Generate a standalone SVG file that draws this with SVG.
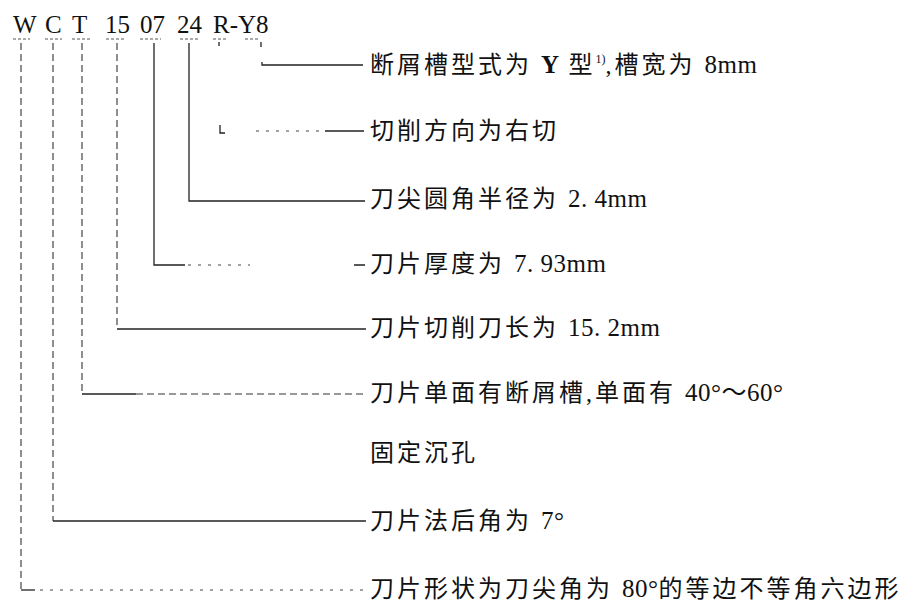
<svg xmlns="http://www.w3.org/2000/svg" width="912" height="601" viewBox="0 0 912 601">
<style>
.t{font-family:"Liberation Serif","Noto Sans CJK SC",serif;font-size:24px;fill:#111;letter-spacing:3px}
.n{font-size:25px;letter-spacing:0.5px}
.code{font-family:"Liberation Serif",serif;font-size:25px;fill:#111}
.ln{fill:none;stroke:#222;stroke-width:1.3}
.dash{fill:none;stroke:#333;stroke-width:1.1;stroke-dasharray:7 4}
.dot{fill:none;stroke:#444;stroke-width:1;stroke-dasharray:3 7}
.ul{fill:none;stroke:#555;stroke-width:1;stroke-dasharray:3 2}
</style>
<rect width="912" height="601" fill="#fff"/>
<g id="code">
<text class="code" x="13" y="33">W</text>
<text class="code" x="45" y="33">C</text>
<text class="code" x="72" y="33">T</text>
<text class="code" x="105" y="33">15</text>
<text class="code" x="140" y="33">07</text>
<text class="code" x="177" y="33">24</text>
<text class="code" x="213" y="33">R-Y8</text>
<path class="ul" d="M13 39H30M45 39H62M72 39H90M106 39H125M140 39H161M180 39H200M213 39H228M245 39H258"/>
</g>
<g id="connectors">
<path class="ln" d="M261 42V47M262 62V65H363"/>
<path class="ln" d="M219 42V46M220 125V133H225"/>
<path class="dot" d="M256 131H325"/>
<path class="ln" d="M325 131H364"/>
<path class="ln" d="M189 43V201H365"/>
<path class="ln" d="M154 43V265H185M354 265H365"/>
<path class="dot" d="M188 265H250"/>
<path class="dash" d="M117 43V329"/>
<path class="ln" d="M117 329H366"/>
<path class="dash" d="M82 43V394"/>
<path class="ln" d="M82 394H136"/>
<path class="dash" d="M136 394H366"/>
<path class="dash" d="M53 43V521"/>
<path class="ln" d="M53 521H366"/>
<path class="dash" d="M21 43V590"/>
<path class="ln" d="M21 590H35"/>
<path class="dot" d="M40 590H366"/>
</g>
<g id="n-y8"><text class="t" x="370" y="73">断屑槽型式为 <tspan class="n" font-weight="bold">Y</tspan> 型<tspan font-size="12" dy="-10" letter-spacing="0">1)</tspan><tspan dy="10">,槽宽为 </tspan><tspan class="n">8mm</tspan></text></g>
<g id="n-r"><text class="t" x="370" y="139">切削方向为右切</text></g>
<g id="n-24"><text class="t" x="370" y="207">刀尖圆角半径为 <tspan class="n">2. 4mm</tspan></text></g>
<g id="n-07"><text class="t" x="370" y="272">刀片厚度为 <tspan class="n">7. 93mm</tspan></text></g>
<g id="n-15"><text class="t" x="370" y="336">刀片切削刀长为 <tspan class="n">15. 2mm</tspan></text></g>
<g id="n-t"><text class="t" x="370" y="401">刀片单面有断屑槽,单面有 <tspan class="n">40°～60°</tspan></text><text class="t" x="370" y="461">固定沉孔</text></g>
<g id="n-c"><text class="t" x="370" y="529">刀片法后角为 <tspan class="n">7°</tspan></text></g>
<g id="n-w"><text class="t" x="370" y="597">刀片形状为刀尖角为 <tspan class="n">80°</tspan>的等边不等角六边形</text></g>
</svg>
